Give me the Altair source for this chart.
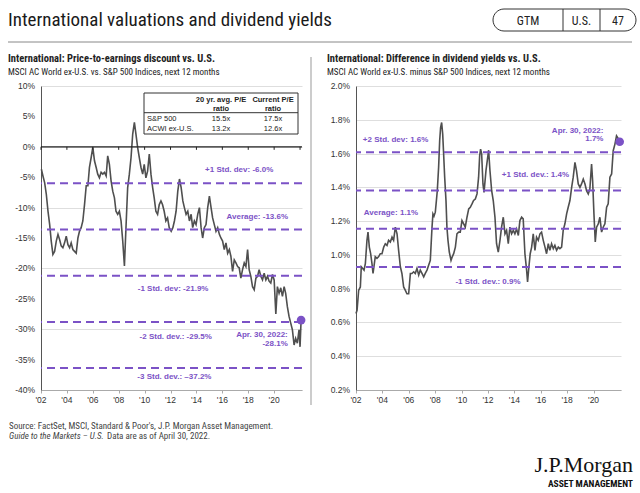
import altair as alt
import pandas as pd

# ---------------- data ----------------
pe_years = [2002.03, 2002.15, 2002.28, 2002.41, 2002.54, 2002.67, 2002.79, 2002.92, 2003.05, 2003.18,
            2003.31, 2003.44, 2003.56, 2003.69, 2003.82, 2003.95, 2004.08, 2004.21, 2004.33, 2004.46,
            2004.59, 2004.72, 2004.85, 2004.97, 2005.10, 2005.23, 2005.36, 2005.49, 2005.62, 2005.74,
            2005.87, 2006.00, 2006.13, 2006.26, 2006.38, 2006.51, 2006.64, 2006.77, 2006.90, 2007.03,
            2007.15, 2007.28, 2007.41, 2007.54, 2007.67, 2007.79, 2007.92, 2008.05, 2008.18, 2008.31,
            2008.44, 2008.56, 2008.69, 2008.82, 2008.95, 2009.08, 2009.21, 2009.33, 2009.46, 2009.59,
            2009.72, 2009.85, 2009.97, 2010.10, 2010.23, 2010.36, 2010.49, 2010.62, 2010.74, 2010.87,
            2011.00, 2011.13, 2011.26, 2011.38, 2011.51, 2011.64, 2011.77, 2011.90, 2012.05, 2012.18,
            2012.30, 2012.43, 2012.56, 2012.69, 2012.82, 2012.95, 2013.07, 2013.20, 2013.33, 2013.46,
            2013.59, 2013.71, 2013.84, 2013.97, 2014.10, 2014.23, 2014.36, 2014.48, 2014.61, 2014.74,
            2014.87, 2015.00, 2015.13, 2015.25, 2015.38, 2015.51, 2015.64, 2015.77, 2015.89, 2016.02,
            2016.15, 2016.28, 2016.41, 2016.54, 2016.66, 2016.79, 2016.92, 2017.05, 2017.18, 2017.30,
            2017.43, 2017.56, 2017.69, 2017.82, 2017.95, 2018.07, 2018.20, 2018.33, 2018.46, 2018.59,
            2018.72, 2018.84, 2018.97, 2019.10, 2019.23, 2019.36, 2019.49, 2019.61, 2019.74, 2019.87,
            2020.00, 2020.13, 2020.25, 2020.38, 2020.51, 2020.64, 2020.77, 2020.89, 2021.02, 2021.15,
            2021.28, 2021.41, 2021.54, 2021.66, 2021.79, 2021.92, 2022.00, 2022.08]
pe_values = [-3.7, -4.8, -5.9, -7.8, -10.6, -12.8, -15.5, -17.7, -17.2, -15.5,
             -14.4, -15.3, -16.3, -16.6, -15.8, -14.7, -16.1, -16.6, -15.8, -16.9,
             -17.2, -17.5, -15.0, -13.9, -13.3, -12.2, -9.5, -6.4, -6.4, -3.4,
             -1.8, -0.1, -2.3, -3.4, -4.5, -5.1, -4.2, -4.5, -4.2, -4.8,
             -1.5, -2.9, -5.6, -7.3, -8.4, -10.6, -11.1, -10.6, -12.2, -15.5,
             -19.6, -13.3, -6.7, -4.5, -1.8, 2.1, 4.0, 2.1, -0.1, -1.8,
             -3.4, -4.5, -2.9, -5.1, -4.0, -1.2, -4.5, -6.7, -8.4, -10.6,
             -11.1, -9.5, -8.9, -9.5, -10.6, -12.2, -11.7, -13.3, -13.9, -13.3,
             -12.2, -10.6, -7.3, -5.3, -6.7, -8.9, -10.0, -11.1, -10.6, -12.2,
             -11.1, -13.3, -12.2, -12.8, -11.1, -10.0, -13.3, -15.0, -13.3, -12.8,
             -10.0, -8.1, -10.0, -11.7, -12.8, -13.9, -13.3, -14.4, -15.0, -15.5,
             -16.9, -15.8, -17.5, -16.9, -18.0, -20.5, -18.6, -19.1, -19.7, -19.9,
             -21.6, -20.2, -19.1, -19.7, -16.9, -20.2, -21.3, -23.0, -23.5, -21.6,
             -21.3, -20.2, -21.3, -21.9, -20.8, -21.9, -21.3, -22.1, -22.4, -21.0,
             -21.9, -27.5, -23.0, -24.1, -23.2, -24.6, -23.0, -24.1, -26.3, -27.9,
             -29.0, -30.1, -32.6, -31.5, -32.3, -30.1, -32.9, -28.5]

dy_years = [2002.00, 2002.08, 2002.20, 2002.33, 2002.40, 2002.51, 2002.61, 2002.71, 2002.83, 2002.91,
            2003.01, 2003.11, 2003.21, 2003.29, 2003.36, 2003.46, 2003.59, 2003.72, 2003.84, 2003.97,
            2004.10, 2004.22, 2004.35, 2004.47, 2004.60, 2004.73, 2004.85, 2004.98, 2005.11, 2005.23,
            2005.36, 2005.48, 2005.61, 2005.74, 2005.86, 2005.99, 2006.12, 2006.24, 2006.37, 2006.49,
            2006.62, 2006.75, 2006.87, 2007.00, 2007.13, 2007.25, 2007.38, 2007.51, 2007.63, 2007.76,
            2007.83, 2007.91, 2008.01, 2008.09, 2008.16, 2008.26, 2008.34, 2008.41, 2008.49, 2008.57,
            2008.64, 2008.72, 2008.82, 2008.89, 2008.97, 2009.07, 2009.20, 2009.30, 2009.40, 2009.53,
            2009.65, 2009.78, 2009.90, 2010.03, 2010.16, 2010.28, 2010.41, 2010.54, 2010.66, 2010.79,
            2010.91, 2011.04, 2011.17, 2011.29, 2011.37, 2011.44, 2011.52, 2011.62, 2011.70, 2011.85,
            2012.05, 2012.15, 2012.28, 2012.40, 2012.53, 2012.65, 2012.78, 2012.91, 2013.03, 2013.16,
            2013.29, 2013.41, 2013.54, 2013.66, 2013.79, 2013.92, 2014.04, 2014.17, 2014.30, 2014.42,
            2014.55, 2014.67, 2014.80, 2014.93, 2015.00, 2015.10, 2015.20, 2015.31, 2015.43, 2015.56,
            2015.68, 2015.81, 2015.94, 2016.06, 2016.19, 2016.32, 2016.44, 2016.57, 2016.69, 2016.82,
            2016.95, 2017.07, 2017.20, 2017.33, 2017.45, 2017.58, 2017.70, 2017.83, 2017.96, 2018.08,
            2018.21, 2018.34, 2018.46, 2018.59, 2018.71, 2018.84, 2018.97, 2019.09, 2019.22, 2019.35,
            2019.47, 2019.60, 2019.72, 2019.85, 2019.93, 2020.03, 2020.13, 2020.23, 2020.36, 2020.48,
            2020.61, 2020.73, 2020.86, 2020.99, 2021.11, 2021.24, 2021.37, 2021.49, 2021.62, 2021.74,
            2021.82, 2021.92, 2021.98]
dy_values = [0.653, 0.672, 0.79, 0.81, 0.93, 0.92, 0.91, 0.95, 1.086, 1.135,
             1.046, 1.007, 0.948, 0.89, 0.93, 0.99, 0.98, 0.99, 1.007, 1.007,
             1.046, 1.066, 1.056, 1.086, 1.076, 1.105, 1.086, 1.164, 1.125, 1.027,
             0.93, 0.89, 0.81, 0.79, 0.77, 0.77, 0.89, 0.89, 0.90, 0.89,
             0.92, 0.88, 0.91, 0.89, 0.87, 0.89, 0.91, 0.94, 0.967, 1.164,
             1.243, 1.23, 1.253, 1.32, 1.38, 1.518, 1.675, 1.754, 1.784, 1.715,
             1.597, 1.46, 1.32, 1.164, 1.086, 1.017, 0.967, 0.99, 1.007, 1.046,
             1.125, 1.135, 1.135, 1.203, 1.184, 1.164, 1.223, 1.272, 1.282, 1.302,
             1.322, 1.331, 1.361, 1.46, 1.587, 1.626, 1.60, 1.42, 1.37, 1.50,
             1.62, 1.50, 1.38, 1.322, 1.223, 1.066, 1.017, 1.086, 1.164, 1.223,
             1.125, 1.145, 1.066, 1.164, 1.125, 1.145, 1.125, 1.154, 1.115, 1.203,
             1.223, 1.213, 1.007, 0.908, 0.84, 0.928, 1.007, 1.046, 1.125, 1.027,
             1.105, 1.086, 1.125, 1.135, 1.086, 1.046, 1.007, 1.066, 1.027, 1.066,
             1.037, 1.056, 1.027, 1.046, 1.037, 1.046, 1.145, 1.184, 1.243, 1.282,
             1.322, 1.40, 1.46, 1.548, 1.498, 1.42, 1.40, 1.42, 1.449, 1.42,
             1.38, 1.361, 1.39, 1.538, 1.44, 1.243, 1.076, 1.164, 1.184, 1.223,
             1.135, 1.164, 1.184, 1.282, 1.302, 1.46, 1.479, 1.617, 1.656, 1.705,
             1.695, 1.68, 1.67]

pe_bands = [-6.0, -13.6, -21.2, -28.8, -36.4]
pe_band_labels = ["+1 Std. dev: -6.0%", "Average: -13.6%", "-1 Std. dev: -21.9%",
                  "-2 Std. dev.: -29.5%", "-3 Std. dev.: \u201337.2%"]
dy_bands = [1.607, 1.381, 1.155, 0.929]
dy_band_labels = ["+2 Std. dev: 1.6%", "+1 Std. dev.: 1.4%", "Average: 1.1%", "-1 Std. dev.: 0.9%"]

x_ticks = [2002, 2004, 2006, 2008, 2010, 2012, 2014, 2016, 2018, 2020]
x_tick_labels = ["'02", "'04", "'06", "'08", "'10", "'12", "'14", "'16", "'18", "'20"]
pe_y_ticks = [10, 5, 0, -5, -10, -15, -20, -25, -30, -35, -40]
pe_y_labels = ["10%", "5%", "0%", "-5%", "-10%", "-15%", "-20%", "-25%", "-30%", "-35%", "-40%"]
dy_y_ticks = [2.0, 1.8, 1.6, 1.4, 1.2, 1.0, 0.8, 0.6, 0.4, 0.2]
dy_y_labels = ["2.0%", "1.8%", "1.6%", "1.4%", "1.2%", "1.0%", "0.8%", "0.6%", "0.4%", "0.2%"]

table_rows = ["S&P 500", "ACWI ex-U.S."]
table_avg = ["15.5x", "13.2x"]
table_cur = ["17.5x", "12.6x"]
pe_last_label = ["Apr. 30, 2022:", "-28.1%"]
dy_last_label = ["Apr. 30, 2022:", "1.7%"]

# ---------------- style ----------------
PURPLE = "#7B52C6"
LINE = "#4f4f4f"
SANS = "Liberation Sans, Arial, sans-serif"
NARROW = "Liberation Sans Narrow, Arial Narrow, Roboto Condensed, Liberation Sans, sans-serif"
SERIF = "Liberation Serif, DejaVu Serif, serif"

OX, OY = 41, 86          # left plot origin on the page
W1, W2, H = 261, 265, 304
ONE = pd.DataFrame({"k": [0]})


def txt(s, x, y, size=8, align="left", baseline="alphabetic", color="#222", font=SANS,
        weight="normal", style="normal"):
    return alt.Chart(ONE).mark_text(text=s, align=align, baseline=baseline, fontSize=size,
                                    color=color, font=font, fontWeight=weight,
                                    fontStyle=style).encode(
        x=alt.value(x - OX), y=alt.value(y - OY))


def hrule(x1, x2, y, color="#999", w=1):
    return alt.Chart(ONE).mark_rule(color=color, strokeWidth=w).encode(
        x=alt.value(x1 - OX), x2=alt.value(x2 - OX), y=alt.value(y - OY))


def vrule(x, y1, y2, color="#999", w=1):
    return alt.Chart(ONE).mark_rule(color=color, strokeWidth=w).encode(
        x=alt.value(x - OX), y=alt.value(y1 - OY), y2=alt.value(y2 - OY))


def box(x1, x2, y1, y2, radius=0, fill="white", stroke="#333", opacity=1):
    return alt.Chart(ONE).mark_rect(cornerRadius=radius, fill=fill, stroke=stroke,
                                    strokeWidth=1, opacity=opacity).encode(
        x=alt.value(x1 - OX), x2=alt.value(x2 - OX),
        y=alt.value(y1 - OY), y2=alt.value(y2 - OY))


def make_x(domain):
    return alt.X("year:Q", scale=alt.Scale(domain=domain, nice=False, zero=False),
                 axis=alt.Axis(values=x_ticks, labels=False, grid=False, title=None,
                               domainColor="#aaa", tickColor="#aaa", tickSize=3))


def make_y(domain, ticks):
    return alt.Y("v:Q", scale=alt.Scale(domain=domain, nice=False, zero=False),
                 axis=alt.Axis(values=ticks, labels=False, grid=True, gridColor="#dedede",
                               domainColor="#555", ticks=False, title=None))


def tick_labels(xenc, yenc, y_ticks, y_labels):
    xl = alt.Chart(pd.DataFrame({"year": x_ticks, "t": x_tick_labels})).mark_text(
        fontSize=8.5, color="#333", font=SANS, baseline="middle").encode(
        x=xenc, y=alt.value(H + 10), text="t:N")
    yl = alt.Chart(pd.DataFrame({"v": y_ticks, "t": y_labels})).mark_text(
        fontSize=8.5, color="#333", font=SANS, align="right", baseline="middle").encode(
        x=alt.value(-6), y=yenc, text="t:N")
    return [xl, yl]


# ---------------- left chart ----------------
pe_df = pd.DataFrame({"year": pe_years, "v": pe_values})
PX = make_x([2002, 2022.15])
PY = make_y([-40, 10], pe_y_ticks)

pe_line = alt.Chart(pe_df).mark_line(color=LINE, strokeWidth=1.6).encode(x=PX, y=PY)
zero = alt.Chart(pd.DataFrame({"v": [0]})).mark_rule(color="#222", strokeWidth=1.2).encode(y=PY)
zero_ticks = alt.Chart(pd.DataFrame({"year": x_ticks + [2022]})).mark_rule(
    color="#222", strokeWidth=1).encode(x=PX, y=alt.datum(0), y2=alt.datum(-0.5))
pe_rules = alt.Chart(pd.DataFrame({"v": pe_bands})).mark_rule(
    color=PURPLE, strokeWidth=2, strokeDash=[8, 5]).encode(y=PY)

pe_lab_pos = [(2017.3, -3.8), (2018.7, -11.5), (2012.2, -23.4), (2012.4, -31.3), (2012.3, -37.8)]
pe_labels = alt.Chart(pd.DataFrame({
    "t": pe_band_labels, "year": [p[0] for p in pe_lab_pos], "v": [p[1] for p in pe_lab_pos]})
).mark_text(color=PURPLE, fontWeight="bold", fontSize=8, font=SANS).encode(x=PX, y=PY, text="t:N")

pe_last = pd.DataFrame({"year": [pe_years[-1]], "v": [pe_values[-1]]})
pe_dot = alt.Chart(pe_last).mark_circle(color=PURPLE, size=75, opacity=1).encode(x=PX, y=PY)
pe_apr = alt.Chart(pd.DataFrame({"t": pe_last_label, "year": [2021.05, 2021.05], "v": [-30.9, -32.4]})
                   ).mark_text(color=PURPLE, fontWeight="bold", fontSize=8, align="right",
                               font=SANS).encode(x=PX, y=PY, text="t:N")

# table
tbl = [box(144, 298, 93, 134), hrule(144, 298, 112.7, color="#333"),
       txt("20 yr. avg. P/E", 221, 102, 7.5, "center", weight="bold"),
       txt("ratio", 221, 111, 7.5, "center", weight="bold"),
       txt("Current P/E", 273, 102, 7.5, "center", weight="bold"),
       txt("ratio", 273, 111, 7.5, "center", weight="bold")]
for i, (r, a, c) in enumerate(zip(table_rows, table_avg, table_cur)):
    yy = 120.5 + i * 10.5
    tbl += [txt(r, 147, yy, 7.5), txt(a, 221, yy, 7.5, "center"), txt(c, 273, yy, 7.5, "center")]

# page decorations (drawn in page pixels)
deco = [
    box(0, 640, 0, 493, fill="white", stroke=None, opacity=0),
    txt("International valuations and dividend yields", 8, 26, 19, font=NARROW, color="#1a1a1a"),
    box(493, 636, 9, 31, radius=11, fill="white", stroke="#333"),
    vrule(563, 9, 31, color="#333"), vrule(600, 9, 31, color="#333"),
    txt("GTM", 528, 20.5, 12, "center", "middle", font=NARROW),
    txt("U.S.", 581.5, 20.5, 12, "center", "middle", font=NARROW),
    txt("47", 618, 20.5, 12, "center", "middle", font=NARROW),
    hrule(8, 632, 42, color="#888"),
    txt("International: Price-to-earnings discount vs. U.S.", 8, 62, 10.5, font=NARROW, weight="bold"),
    txt("MSCI AC World ex-U.S. vs. S&P 500 Indices, next 12 months", 8, 75, 9, font=NARROW),
    txt("International: Difference in dividend yields vs. U.S.", 327, 62, 10.5, font=NARROW, weight="bold"),
    txt("MSCI AC World ex-U.S. minus S&P 500 Indices, next 12 months", 327, 75, 9, font=NARROW),
    vrule(311, 57, 405, color="#999"),
    txt("Source: FactSet, MSCI, Standard & Poor's, J.P. Morgan Asset Management.", 9, 429, 9,
        font=NARROW, color="#444"),
    txt("Guide to the Markets \u2013 U.S.", 9, 438.5, 9, font=NARROW, color="#444", style="italic"),
    txt("Data are as of April 30, 2022.", 107, 438.5, 9, font=NARROW, color="#444"),
    txt("J.P.Morgan", 633, 472, 22, "right", font=SERIF, color="#111"),
    txt("ASSET MANAGEMENT", 633, 487, 9.5, "right", font=NARROW, weight="bold", color="#111"),
]

left = alt.layer(pe_line, zero, zero_ticks, pe_rules, pe_labels, pe_dot, pe_apr,
                 *tick_labels(PX, PY, pe_y_ticks, pe_y_labels), *tbl, *deco).properties(
    width=W1, height=H)

# ---------------- right chart ----------------
dy_df = pd.DataFrame({"year": dy_years, "v": dy_values})
DX = make_x([2002, 2022.08])
DY = make_y([0.2, 2.0], dy_y_ticks)
dy_line = alt.Chart(dy_df).mark_line(color=LINE, strokeWidth=1.6).encode(x=DX, y=DY)
dy_rules = alt.Chart(pd.DataFrame({"v": dy_bands})).mark_rule(
    color=PURPLE, strokeWidth=2, strokeDash=[8, 5]).encode(y=DY)
dy_lab_pos = [(2005.0, 1.68), (2015.6, 1.473), (2004.65, 1.248), (2012.0, 0.841)]
dy_labels = alt.Chart(pd.DataFrame({
    "t": dy_band_labels, "year": [p[0] for p in dy_lab_pos], "v": [p[1] for p in dy_lab_pos]})
).mark_text(color=PURPLE, fontWeight="bold", fontSize=8, font=SANS).encode(x=DX, y=DY, text="t:N")
dy_last = pd.DataFrame({"year": [dy_years[-1]], "v": [dy_values[-1]]})
dy_dot = alt.Chart(dy_last).mark_circle(color=PURPLE, size=75, opacity=1).encode(x=DX, y=DY)
dy_apr = alt.Chart(pd.DataFrame({"t": dy_last_label, "year": [2020.75, 2020.75], "v": [1.735, 1.685]})
                   ).mark_text(color=PURPLE, fontWeight="bold", fontSize=8, align="right",
                               font=SANS).encode(x=DX, y=DY, text="t:N")

right = alt.layer(dy_line, dy_rules, dy_labels, dy_dot, dy_apr,
                  *tick_labels(DX, DY, dy_y_ticks, dy_y_labels)).properties(width=W2, height=H)

chart = alt.hconcat(left, right, spacing=356 - OX - W1, bounds="flush").properties(
    padding=0, background="white"
).configure_view(strokeWidth=0)

chart.save("out.html", embed_options={"renderer": "svg", "actions": False})
